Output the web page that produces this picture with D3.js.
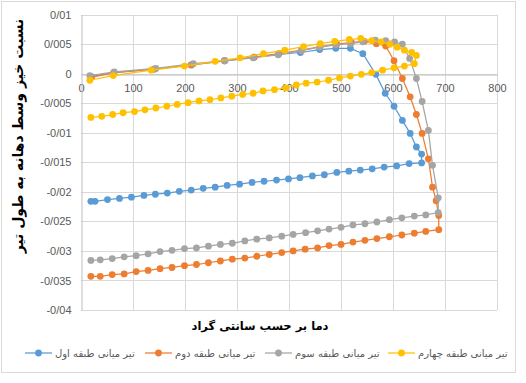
<!DOCTYPE html>
<html>
<head>
<meta charset="utf-8">
<script src="https://cdn.jsdelivr.net/npm/d3@7"></script>
<style>
  body { margin: 0; background: #fff; }
  svg { display: block; }
</style>
</head>
<body>
<script>
// Abmessungen
const width = 526;
const height = 383;

// Daten: Temperatur (°C) und Verhältnis je Serie, in Reihenfolge der Messpunkte
const s1T = [20, 63, 140, 212, 276, 333, 380, 422, 459, 490, 518, 542, 567, 585, 602, 618, 633, 645, 655,
  655, 631, 607, 583, 560, 537, 515, 492, 468, 445, 421, 399, 376, 352, 329, 305, 281, 258, 235, 212, 189, 166, 143, 121, 97, 74, 51, 27, 19];
const s1V = [-0.0005, 0.0002, 0.0008, 0.0015, 0.0022, 0.0028, 0.0033, 0.0036, 0.0041, 0.0043, 0.0043, 0.0034, -0.0001, -0.0033, -0.0055, -0.0079, -0.0101, -0.0124, -0.0136,
  -0.0151, -0.0152, -0.0156, -0.0158, -0.0161, -0.0163, -0.0165, -0.0167, -0.0171, -0.0173, -0.0176, -0.0178, -0.0180, -0.0182, -0.0184, -0.0187, -0.0189, -0.0192, -0.0194, -0.0197, -0.0199, -0.0202, -0.0204, -0.0206, -0.0209, -0.0211, -0.0213, -0.0216, -0.0216];

const s2T = [20, 63, 142, 212, 276, 333, 380, 424, 460, 492, 520, 545, 568, 586, 602, 618, 633, 645, 656, 668, 676, 683, 688,
  688, 663, 641, 617, 593, 569, 546, 523, 500, 477, 455, 431, 408, 386, 362, 338, 315, 291, 268, 245, 222, 199, 175, 152, 129, 106, 83, 60, 37, 19];
const s2V = [-0.0006, 0.0002, 0.0008, 0.0015, 0.0022, 0.0028, 0.0034, 0.0040, 0.0046, 0.0050, 0.0053, 0.0055, 0.0051, 0.0047, 0.0022, -0.0008, -0.0039, -0.0069, -0.0101, -0.0144, -0.0192, -0.0215, -0.0240,
  -0.0264, -0.0267, -0.0270, -0.0273, -0.0276, -0.0279, -0.0282, -0.0285, -0.0289, -0.0291, -0.0295, -0.0297, -0.0300, -0.0303, -0.0306, -0.0309, -0.0312, -0.0314, -0.0317, -0.0320, -0.0323, -0.0325, -0.0328, -0.0330, -0.0333, -0.0335, -0.0339, -0.0340, -0.0343, -0.0343];

const s3T = [17, 64, 144, 216, 277, 331, 379, 424, 459, 490, 518, 542, 566, 586, 603, 618, 632, 645, 656, 668, 676, 687,
  687, 663, 641, 617, 593, 569, 546, 523, 500, 477, 455, 432, 408, 386, 362, 338, 315, 291, 268, 245, 222, 199, 175, 152, 129, 106, 83, 60, 37, 19];
const s3V = [-0.0003, 0.0003, 0.0009, 0.0017, 0.0022, 0.0027, 0.0032, 0.0039, 0.0045, 0.0049, 0.0051, 0.0054, 0.0057, 0.0056, 0.0054, 0.0050, 0.0026, -0.0008, -0.0047, -0.0096, -0.0155, -0.0210,
  -0.0235, -0.0239, -0.0241, -0.0244, -0.0247, -0.0251, -0.0254, -0.0256, -0.0260, -0.0263, -0.0266, -0.0269, -0.0272, -0.0275, -0.0278, -0.0280, -0.0283, -0.0287, -0.0289, -0.0292, -0.0295, -0.0296, -0.0299, -0.0301, -0.0305, -0.0308, -0.0310, -0.0313, -0.0315, -0.0316];

const s4T = [17, 62, 135, 199, 258, 306, 351, 392, 428, 460, 488, 516, 538, 559, 577, 594, 608, 622, 636, 645,
  641, 622, 602, 580, 559, 539, 518, 497, 476, 454, 433, 414, 394, 372, 350, 331, 311, 290, 269, 248, 227, 206, 185, 165, 144, 123, 103, 81, 61, 40, 19];
const s4V = [-0.0011, -0.0003, 0.0006, 0.0013, 0.0021, 0.0027, 0.0034, 0.0040, 0.0046, 0.0051, 0.0055, 0.0058, 0.0060, 0.0056, 0.0054, 0.0050, 0.0045, 0.0040, 0.0036, 0.0031,
  0.0017, 0.0013, 0.0010, 0.0006, 0.0002, -0.0001, -0.0004, -0.0007, -0.0011, -0.0014, -0.0016, -0.0019, -0.0024, -0.0027, -0.0029, -0.0033, -0.0035, -0.0038, -0.0041, -0.0044, -0.0046, -0.0049, -0.0052, -0.0055, -0.0058, -0.0061, -0.0064, -0.0066, -0.0069, -0.0072, -0.0074];

const seriesNames = ["تیر میانی طبقه اول", "تیر میانی طبقه دوم", "تیر میانی طبقه سوم", "تیر میانی طبقه چهارم"];
const xTicks = [0, 100, 200, 300, 400, 500, 600, 700, 800];
const yTicks = [0.01, 0.005, 0, -0.005, -0.01, -0.015, -0.02, -0.025, -0.03, -0.035, -0.04];
const yTickLabels = ["0/01", "0/005", "0", "-0/005", "-0/01", "-0/015", "-0/02", "-0/025", "-0/03", "-0/035", "-0/04"];
const xTitle = "دما بر حسب سانتی گراد";
const yTitle = "نسبت خیز وسط دهانه به طول تیر";

const colors = ["#5B9BD5", "#ED7D31", "#A5A5A5", "#FFC000"];

const series = [[s1T, s1V], [s2T, s2V], [s3T, s3V], [s4T, s4V]].map(([t, v], i) => ({
  name: seriesNames[i],
  color: colors[i],
  points: t.map((d, j) => ({ t: d, v: v[j] }))
}));

// Skalen
const x = d3.scaleLinear().domain([0, 800]).range([81, 497]);
const y = d3.scaleLinear().domain([-0.04, 0.01]).range([310, 14.7]);

const svg = d3.select("body").append("svg")
    .attr("width", width)
    .attr("height", height)
    .attr("viewBox", [0, 0, width, height]);

// Rahmen
svg.append("rect")
    .attr("x", 1.5).attr("y", 1.5)
    .attr("width", 514).attr("height", 371)
    .attr("fill", "#fff")
    .attr("stroke", "#D9D9D9");

// Gitterlinien
svg.append("g")
    .attr("stroke", "#D9D9D9")
    .selectAll("line")
    .data(yTicks)
    .join("line")
    .attr("x1", x(0)).attr("x2", x(800))
    .attr("y1", d => Math.round(y(d)) + 0.5)
    .attr("y2", d => Math.round(y(d)) + 0.5);

svg.append("g")
    .attr("stroke", "#D9D9D9")
    .selectAll("line")
    .data(xTicks.slice(1))
    .join("line")
    .attr("y1", y(0.01)).attr("y2", y(-0.04))
    .attr("x1", d => Math.round(x(d)) + 0.5)
    .attr("x2", d => Math.round(x(d)) + 0.5);

// Achsen
const xAxis = svg.append("g")
    .attr("transform", `translate(0,${Math.round(y(0)) + 0.5})`)
    .call(d3.axisBottom(x).tickValues(xTicks).tickSize(0).tickPadding(10));
xAxis.select(".domain").attr("stroke", "#BFBFBF");

const yAxis = svg.append("g")
    .attr("transform", `translate(${Math.round(x(0)) + 0.5},0)`)
    .call(d3.axisLeft(y).tickValues(yTicks).tickSize(0).tickPadding(10)
      .tickFormat((d, i) => yTickLabels[i]));
yAxis.select(".domain").attr("stroke", "#BFBFBF");

svg.selectAll(".tick text")
    .attr("fill", "#595959")
    .attr("font-family", "Liberation Sans, Arial, sans-serif")
    .attr("font-size", 11);

// Linien und Marker
const line = d3.line().x(d => x(d.t)).y(d => y(d.v));

series.forEach(s => {
  const g = svg.append("g");
  g.append("path")
      .datum(s.points)
      .attr("fill", "none")
      .attr("stroke", s.color)
      .attr("stroke-width", 1.25)
      .attr("d", line);
  g.selectAll("circle")
      .data(s.points)
      .join("circle")
      .attr("cx", d => x(d.t))
      .attr("cy", d => y(d.v))
      .attr("r", 3.4)
      .attr("fill", s.color);
});

// Achsentitel
svg.append("text")
    .attr("x", 260).attr("y", 330)
    .attr("text-anchor", "middle")
    .attr("font-family", "DejaVu Sans, sans-serif")
    .attr("font-weight", "bold")
    .attr("font-size", 11.5)
    .attr("fill", "#000")
    .text(xTitle);

svg.append("text")
    .attr("transform", "translate(23,136) rotate(-90)")
    .attr("text-anchor", "middle")
    .attr("font-family", "DejaVu Sans, sans-serif")
    .attr("font-weight", "bold")
    .attr("font-size", 14)
    .attr("fill", "#000")
    .text(yTitle);

// Legende
const legendX = [25, 145, 265, 388];
const legend = svg.append("g")
    .selectAll("g")
    .data(series)
    .join("g")
    .attr("transform", (d, i) => `translate(${legendX[i]},353)`);

legend.append("line")
    .attr("x1", 0).attr("x2", 27)
    .attr("stroke", d => d.color)
    .attr("stroke-width", 1.25);
legend.append("circle")
    .attr("cx", 13.5).attr("r", 3.4)
    .attr("fill", d => d.color);
legend.append("text")
    .attr("x", 30).attr("y", 3.5)
    .attr("font-family", "DejaVu Sans, sans-serif")
    .attr("font-size", 10)
    .attr("fill", "#595959")
    .attr("direction", "rtl")
    .attr("text-anchor", "end")
    .text(d => d.name);
</script>
</body>
</html>
